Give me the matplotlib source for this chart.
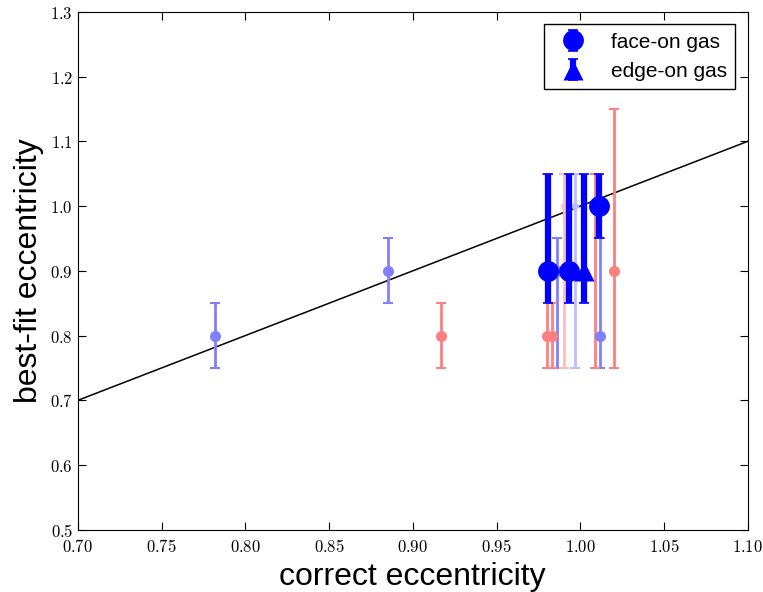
import matplotlib
matplotlib.use('Agg')
import matplotlib.pyplot as plt
import numpy as np

plt.rcParams['mathtext.fontset'] = 'cm'
plt.rcParams['xtick.direction'] = 'in'
plt.rcParams['ytick.direction'] = 'in'

# light points
lb_x = [0.782, 0.885, 0.986, 1.012]
lb_y = [0.8, 0.9, 0.9, 0.8]
lb_lo = [0.05, 0.05, 0.15, 0.05]
lb_hi = [0.05, 0.05, 0.05, 0.15]

lr_x = [0.917, 0.980, 0.983, 1.009, 1.020]
lr_y = [0.8, 0.8, 0.8, 1.0, 0.9]
lr_lo = [0.05, 0.05, 0.05, 0.25, 0.15]
lr_hi = [0.05, 0.25, 0.05, 0.05, 0.25]

# pale points
pr_x, pr_y, pr_lo, pr_hi = [0.990], [1.0], [0.25], [0.05]
pb_x, pb_y, pb_lo, pb_hi = [0.997], [1.0], [0.25], [0.05]

# gas
face_x = [0.981, 0.993, 1.011]
face_y = [0.9, 0.9, 1.0]
face_lo = [0.05, 0.05, 0.05]
face_hi = [0.15, 0.15, 0.05]

edge_x = [1.002]
edge_y = [0.9]
edge_lo = [0.05]
edge_hi = [0.15]

xticks = [0.70, 0.75, 0.80, 0.85, 0.90, 0.95, 1.00, 1.05, 1.10]
yticks = [0.5, 0.6, 0.7, 0.8, 0.9, 1.0, 1.1, 1.2, 1.3]

fig = plt.figure(figsize=(7.63, 5.92), dpi=100)
ax = fig.add_axes([0.102, 0.105, 0.878, 0.875])

ax.plot([0.7, 1.1], [0.7, 1.1], color='k', lw=1.1, zorder=1)

light = dict(fmt='o', ms=8, mec='none', elinewidth=2, capsize=3.4, capthick=1.5, zorder=2)
ax.errorbar(lb_x, lb_y, yerr=[lb_lo, lb_hi], color='#8080ff', **light)
ax.errorbar(lr_x, lr_y, yerr=[lr_lo, lr_hi], color='#ff8080', **light)
pale = dict(fmt='o', ms=5, mec='none', elinewidth=2, capsize=3.4, capthick=1.5, zorder=2)
ax.errorbar(pr_x, pr_y, yerr=[pr_lo, pr_hi], color='#ffbcbc', **pale)
ax.errorbar(pb_x, pb_y, yerr=[pb_lo, pb_hi], color='#bcbcff', **pale)

ax.errorbar(face_x, face_y, yerr=[face_lo, face_hi], fmt='o', color='blue',
            ms=15, mec='none', elinewidth=4.5, capsize=3.6, capthick=1.2,
            zorder=3, label='face-on gas')
ax.errorbar(edge_x, edge_y, yerr=[edge_lo, edge_hi], fmt='^', color='blue',
            ms=15, mec='none', elinewidth=4.5, capsize=3.6, capthick=1.2,
            zorder=3, label='edge-on gas')

ax.set_xlim(0.7, 1.1)
ax.set_ylim(0.5, 1.3)
ax.set_xticks(xticks)
ax.set_yticks(yticks)
ax.set_xticklabels(['$%.2f$' % t for t in xticks], fontsize=12)
ax.set_yticklabels(['$%.1f$' % t for t in yticks], fontsize=12)
ax.tick_params(top=True, right=True, length=6, width=0.8)
ax.tick_params(axis='x', pad=6)

ax.set_xlabel('correct eccentricity', fontsize=23, family='Liberation Sans')
ax.set_ylabel('best-fit eccentricity', fontsize=23, family='Liberation Sans')

leg = ax.legend(loc='upper right', numpoints=1, fancybox=False, framealpha=1,
                prop={'family': 'Liberation Sans', 'size': 15}, handletextpad=0.8,
                borderaxespad=0.6)
leg.get_frame().set_edgecolor('k')

fig.savefig('out.png', dpi=100)
